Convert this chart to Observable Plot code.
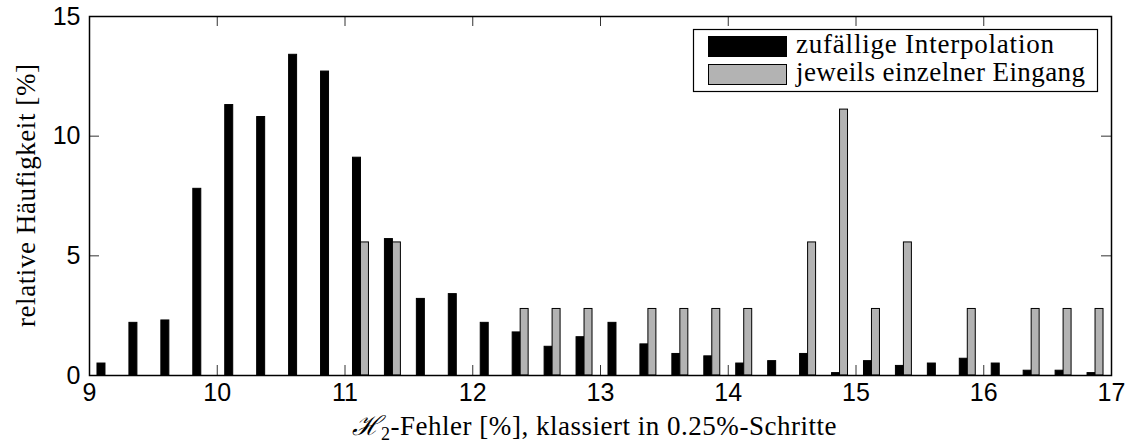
<!DOCTYPE html>
<html>
<head>
<meta charset="utf-8">
<script src="https://cdn.jsdelivr.net/npm/d3@7"></script>
<script src="https://cdn.jsdelivr.net/npm/@observablehq/plot@0.6"></script>
<style>
  html, body { margin: 0; padding: 0; background: #fff; }
  #chart svg { display: block; }
  #chart svg text.serif, #chart svg text.serif tspan { font-family: "Liberation Serif", "Times New Roman", serif; }
  #chart svg text.serif tspan.cal { font-family: "DejaVu Serif", serif; font-style: italic; }
</style>
</head>
<body>
<div id="chart"></div>
<script>
// Class centres of the 0.25 %-wide error classes
const classCenters = [9.125, 9.375, 9.625, 9.875, 10.125, 10.375, 10.625, 10.875,
  11.125, 11.375, 11.625, 11.875, 12.125, 12.375, 12.625, 12.875,
  13.125, 13.375, 13.625, 13.875, 14.125, 14.375, 14.625, 14.875,
  15.125, 15.375, 15.625, 15.875, 16.125, 16.375, 16.625, 16.875];

// Relative frequency [%] per class
const randomInterpolation = [0.5, 2.2, 2.3, 7.8, 11.3, 10.8, 13.4, 12.7,
  9.1, 5.7, 3.2, 3.4, 2.2, 1.8, 1.2, 1.6,
  2.2, 1.3, 0.9, 0.8, 0.5, 0.6, 0.9, 0.1,
  0.6, 0.4, 0.5, 0.7, 0.5, 0.2, 0.2, 0.1];
const singleInput = [0, 0, 0, 0, 0, 0, 0, 0,
  5.56, 5.56, 0, 0, 0, 2.78, 2.78, 2.78,
  0, 2.78, 2.78, 2.78, 2.78, 0, 5.56, 11.11,
  2.78, 5.56, 0, 2.78, 0, 2.78, 2.78, 2.78];

const seriesNames = ["zufällige Interpolation", "jeweils einzelner Eingang"];
const seriesColors = ["#000000", "#b3b3b3"];
const xTicks = [9, 10, 11, 12, 13, 14, 15, 16, 17];
const yTicks = [0, 5, 10, 15];
const yLabel = "relative Häufigkeit [%]";

const W = 1130, H = 447;
const mL = 89, mR = 19, mT = 16, mB = 72;
const innerW = W - mL - mR, innerH = H - mT - mB;
const barW = 0.0625;   // width of one bar in x units
const tickLen = 10;
const serifSize = 27;

const rows = classCenters.map((c, i) => ({c, a: randomInterpolation[i], b: singleInput[i]}));

const plot = Plot.plot({
  width: W, height: H,
  marginLeft: mL, marginRight: mR, marginTop: mT, marginBottom: mB,
  style: {fontFamily: "'Liberation Sans', Arial, sans-serif", fontSize: "25px", color: "#000", background: "#fff"},
  x: {domain: [9, 17]},
  y: {domain: [0, 15]},
  marks: [
    Plot.rect(rows, {x1: d => d.c - barW, x2: d => d.c, y1: 0, y2: "a",
      fill: seriesColors[0], stroke: "#000", strokeWidth: 1}),
    Plot.rect(rows.filter(d => d.b > 0), {x1: d => d.c, x2: d => d.c + barW, y1: 0, y2: "b",
      fill: seriesColors[1], stroke: "#000", strokeWidth: 1}),
    // inward ticks on all four sides (y1 = top end, y2 = bottom end)
    Plot.ruleX(xTicks, {x: d => d, y1: 15, y2: 0, insetTop: innerH - tickLen, stroke: "#333", strokeWidth: 1}),
    Plot.ruleX(xTicks, {x: d => d, y1: 15, y2: 0, insetBottom: innerH - tickLen, stroke: "#333", strokeWidth: 1}),
    Plot.ruleY(yTicks, {y: d => d, x1: 9, x2: 17, insetRight: innerW - tickLen, stroke: "#333", strokeWidth: 1}),
    Plot.ruleY(yTicks, {y: d => d, x1: 9, x2: 17, insetLeft: innerW - tickLen, stroke: "#333", strokeWidth: 1}),
    Plot.frame({stroke: "#000", strokeWidth: 1.5}),
    Plot.axisX({ticks: xTicks, tickSize: 0, tickPadding: 8, label: null, fontSize: 25}),
    Plot.axisY({ticks: yTicks, tickSize: 0, tickPadding: 9, label: null, fontSize: 25})
  ]
});

document.getElementById("chart").appendChild(plot);

const svg = d3.select(plot);

// y-axis title
svg.append("text").attr("class", "serif")
  .attr("transform", `translate(34.5,${mT + innerH / 2}) rotate(-90)`)
  .attr("text-anchor", "middle")
  .attr("font-size", serifSize).attr("fill", "#000")
  .attr("textLength", 263).attr("lengthAdjust", "spacing")
  .text(yLabel);

// x-axis title with subscript
const xt = svg.append("text").attr("class", "serif")
  .attr("x", 594).attr("y", 435)
  .attr("text-anchor", "middle")
  .attr("font-size", serifSize).attr("fill", "#000")
  .attr("textLength", 485).attr("lengthAdjust", "spacing");
xt.append("tspan").attr("class", "cal").text("ℋ");
xt.append("tspan").attr("font-size", 18).attr("dy", 5).text("2");
xt.append("tspan").attr("dy", -5).text("-Fehler [%], klassiert in 0.25%-Schritte");

// legend box in the upper right corner
const lg = svg.append("g").attr("text-anchor", "start");
lg.append("rect").attr("x", 693.5).attr("y", 29.5).attr("width", 404).attr("height", 62)
  .attr("fill", "#fff").attr("stroke", "#000").attr("stroke-width", 1.2);
const swY = [36.5, 64.5], txY = [53, 81], txLen = [258, 289];
seriesNames.forEach((name, i) => {
  lg.append("rect").attr("x", 708.5).attr("y", swY[i]).attr("width", 78).attr("height", 20)
    .attr("fill", seriesColors[i]).attr("stroke", "#000").attr("stroke-width", 1);
  lg.append("text").attr("class", "serif").attr("x", 796).attr("y", txY[i])
    .attr("text-anchor", "start")
    .attr("font-size", serifSize).attr("fill", "#000")
    .attr("textLength", txLen[i]).attr("lengthAdjust", "spacing")
    .text(name);
});
</script>
</body>
</html>
